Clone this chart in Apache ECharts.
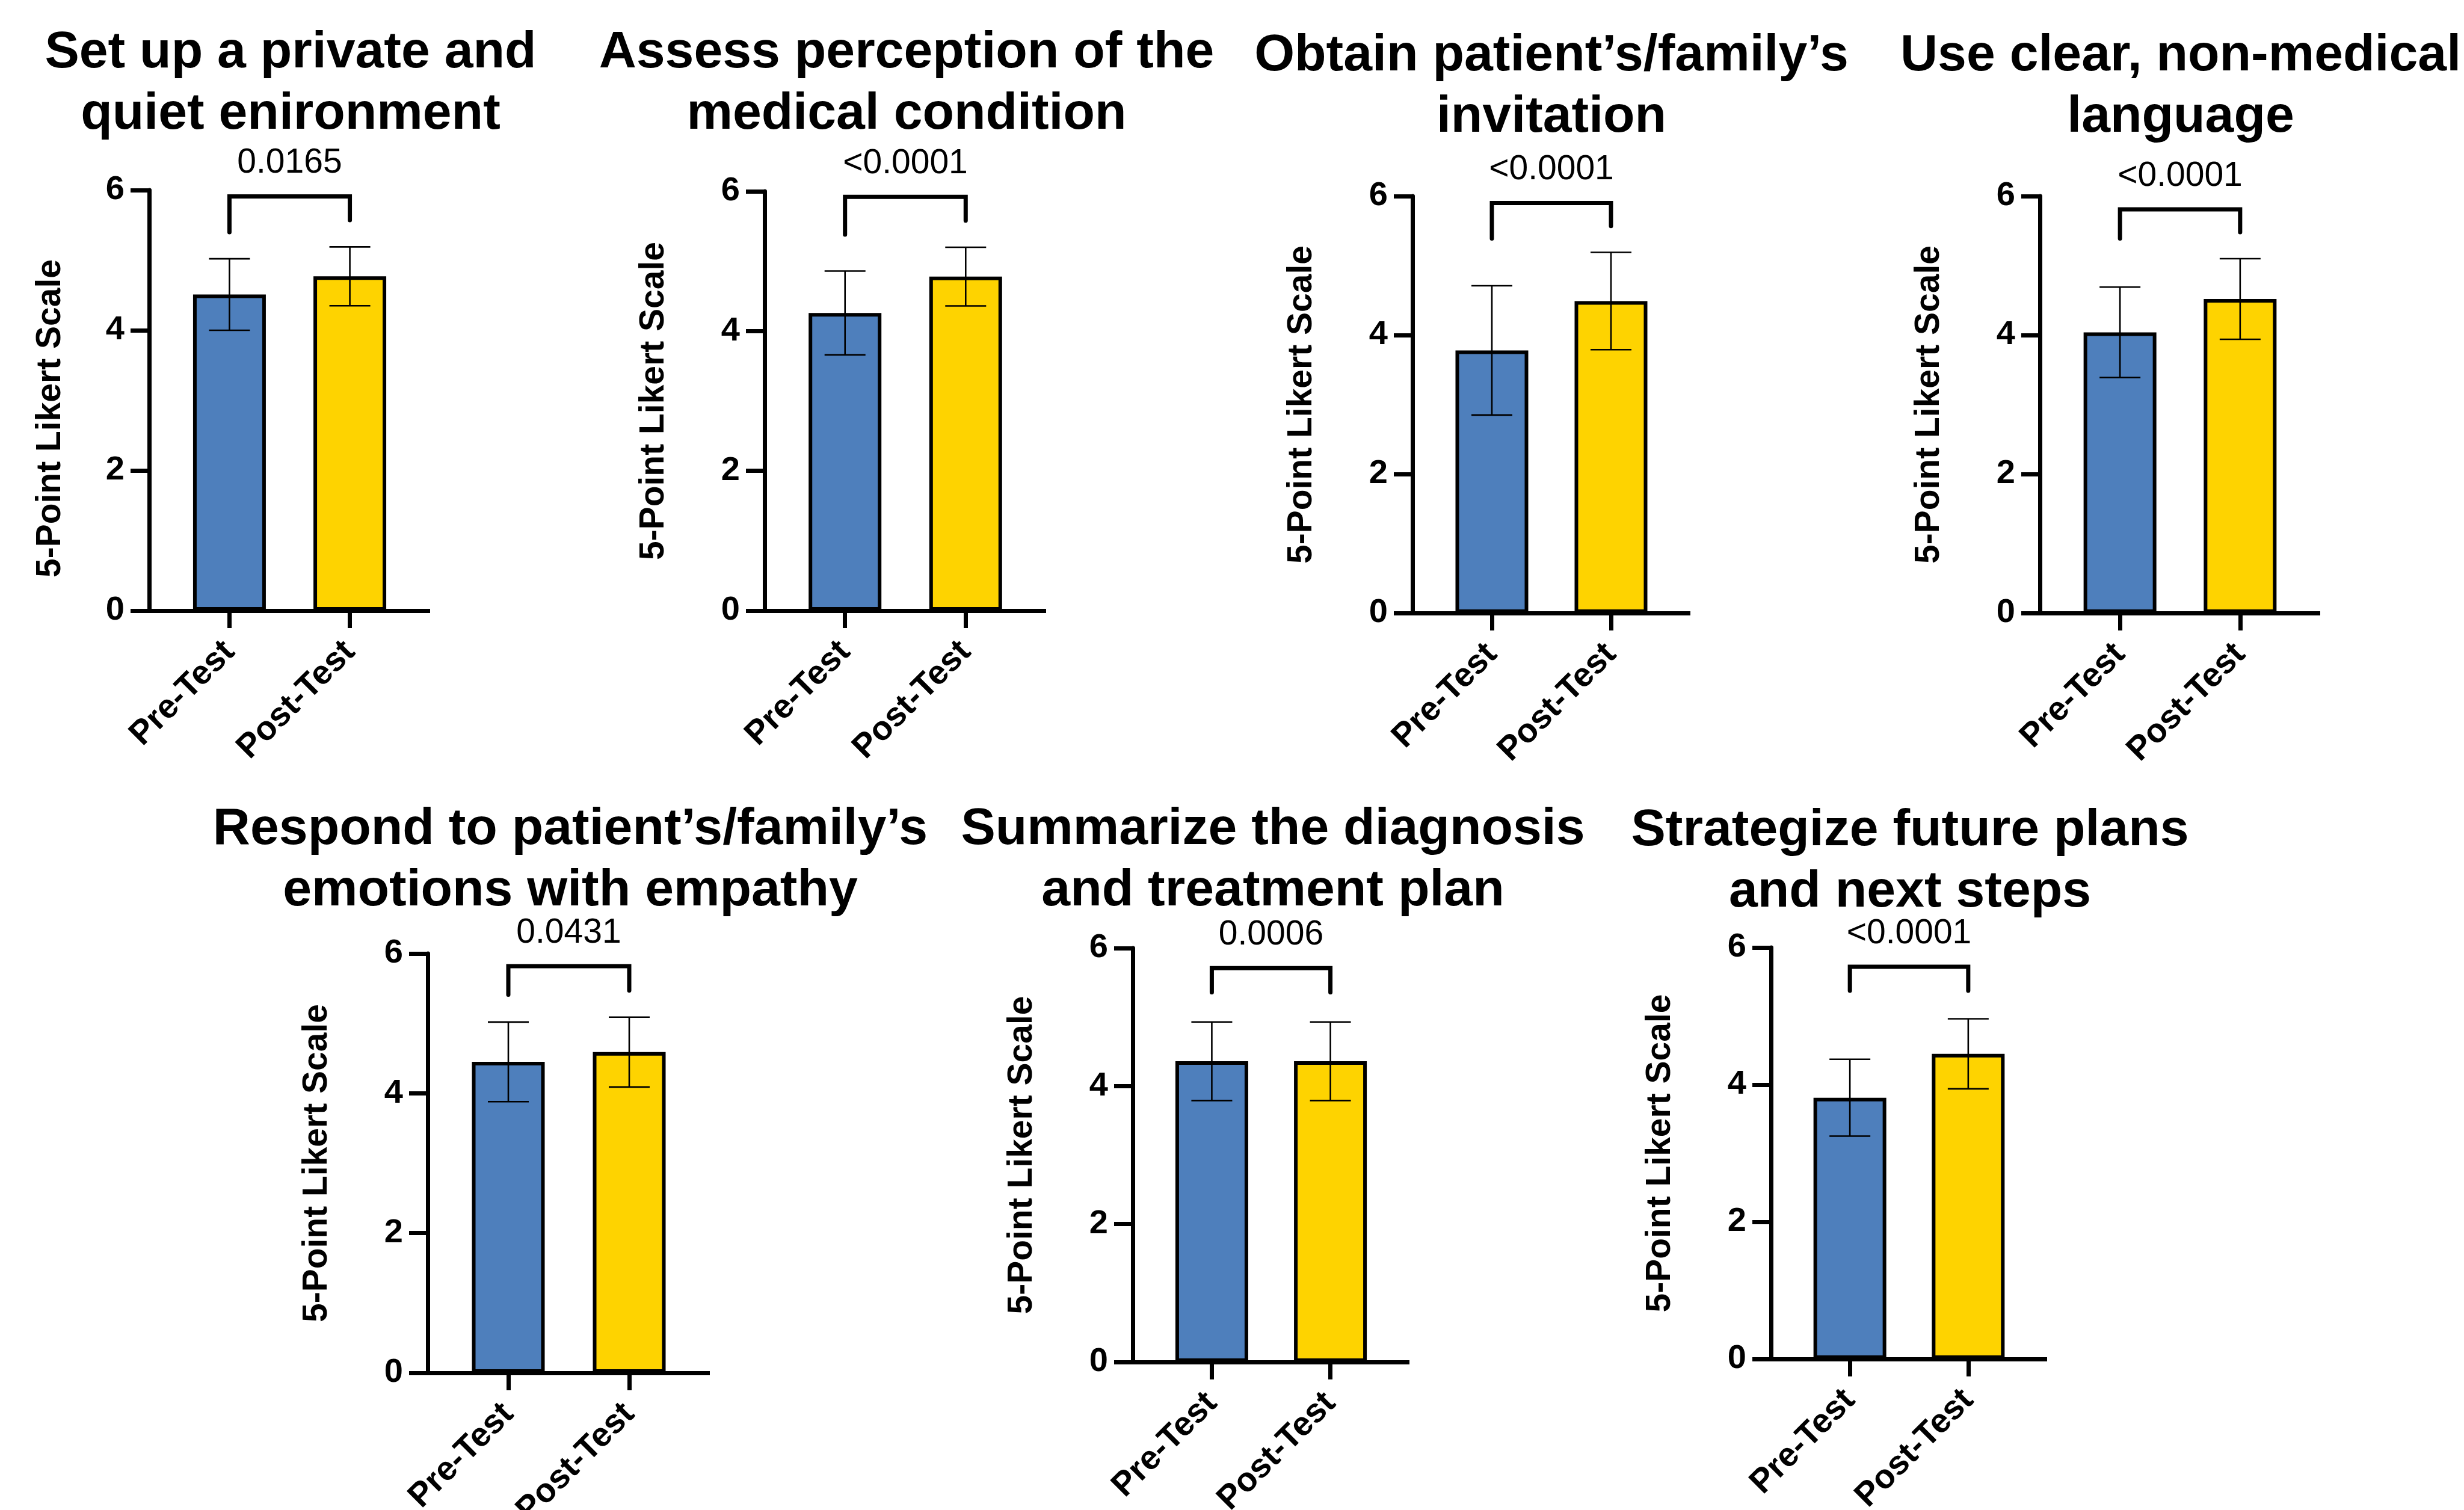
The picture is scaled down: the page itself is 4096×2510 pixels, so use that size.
<!DOCTYPE html>
<html>
<head>
<meta charset="utf-8">
<script src="https://cdn.jsdelivr.net/npm/echarts@6/dist/echarts.min.js"></script>
<style>
  html, body { margin: 0; padding: 0; background: #ffffff; }
  #chart { width: 4096px; height: 2510px; }
</style>
</head>
<body>
<div id="chart"></div>
<script>
// Pre/post SPIKES self-ratings on a 5-point Likert scale (mean ± SD)
const groups = ['Pre-Test', 'Post-Test'];
const panelTitles = [
  'Set up a private and\nquiet enironment',
  'Assess perception of the\nmedical condition',
  'Obtain patient\u2019s/family\u2019s\ninvitation',
  'Use clear, non-medical\nlanguage',
  'Respond to patient\u2019s/family\u2019s\nemotions with empathy',
  'Summarize the diagnosis\nand treatment plan',
  'Strategize future plans\nand next steps'
];
const preMean  = [4.51, 4.26, 3.78, 4.04, 4.45, 4.36, 3.81];
const preSD    = [0.51, 0.60, 0.93, 0.65, 0.57, 0.57, 0.56];
const postMean = [4.77, 4.78, 4.49, 4.52, 4.59, 4.36, 4.45];
const postSD   = [0.42, 0.42, 0.70, 0.58, 0.50, 0.57, 0.51];
const pValues  = ['0.0165', '<0.0001', '<0.0001', '<0.0001', '0.0431', '0.0006', '<0.0001'];
// comparison bracket levels, in scale units: crossbar, pre leg end, post leg end
const bracketTop     = [5.91, 5.92, 5.90, 5.81, 5.82, 5.71, 5.72];
const bracketPreEnd  = [5.40, 5.38, 5.39, 5.39, 5.41, 5.36, 5.37];
const bracketPostEnd = [5.57, 5.58, 5.57, 5.48, 5.47, 5.36, 5.37];
const yTicks = { min: 0, max: 6, step: 2 };
const yName = '5-Point Likert Scale';

// panel boxes (pixels) and title placement
const layout = [
  { left: 248,  top: 316,  width: 467, height: 699, tx: 483,  ty: 37,   gap: 135, shift: 30 },
  { left: 1271, top: 318,  width: 468, height: 697, tx: 1507, ty: 37,   gap: 155, shift: 0 },
  { left: 2348, top: 326,  width: 462, height: 693, tx: 2579, ty: 42,   gap: 155, shift: 0 },
  { left: 3391, top: 326,  width: 466, height: 693, tx: 3625, ty: 42,   gap: 155, shift: 0 },
  { left: 711,  top: 1585, width: 469, height: 697, tx: 948,  ty: 1328, gap: 155, shift: 0 },
  { left: 1883, top: 1576, width: 460, height: 688, tx: 2116, ty: 1328, gap: 155, shift: 0 },
  { left: 2944, top: 1575, width: 459, height: 684, tx: 3175, ty: 1330, gap: 155, shift: 0 }
];

const FONT = '"Liberation Sans", Arial, Helvetica, sans-serif';
const BLUE = '#4E7FBC';
const GOLD = '#FED300';
const INK = '#000000';

const title = [], grid = [], xAxis = [], yAxis = [], series = [];

layout.forEach((L, i) => {
  title.push({
    text: panelTitles[i],
    left: L.tx, top: L.ty, padding: 0,
    textAlign: 'center',
    textStyle: { fontFamily: FONT, fontWeight: 'bold', fontSize: 86, lineHeight: 102, color: INK }
  });
  grid.push({
    left: L.left, top: L.top, width: L.width, height: L.height,
    containLabel: false, outerBoundsMode: 'none'
  });

  xAxis.push({
    type: 'value', gridIndex: i, min: -2 / 3, max: 5 / 3,
    splitLine: { show: false },
    axisLine: { show: true, onZero: false, lineStyle: { color: INK, width: 7, cap: 'butt' } },
    axisTick: { show: true, customValues: [0, 1], length: 29, lineStyle: { color: INK, width: 7 } },
    axisLabel: {
      show: true, customValues: [0, 1], rotate: 45, margin: 60,
      formatter: v => groups[Math.round(v)],
      fontFamily: FONT, fontWeight: 'bold', fontSize: 56, color: INK
    }
  });

  yAxis.push({
    type: 'value', gridIndex: i, min: yTicks.min, max: yTicks.max, interval: yTicks.step,
    splitLine: { show: false },
    axisLine: { show: true, onZero: false, lineStyle: { color: INK, width: 7 } },
    axisTick: { show: true, length: 31, lineStyle: { color: INK, width: 7 } },
    axisLabel: { margin: 41, fontFamily: FONT, fontWeight: 'bold', fontSize: 56, color: INK },
    name: yName, nameLocation: 'middle', nameRotate: 90, nameGap: L.gap,
    nameTextStyle: {
      fontFamily: FONT, fontWeight: 'bold', fontSize: 57, lineHeight: 57, color: INK,
      padding: L.shift ? [0, 2 * L.shift, 0, 0] : 0
    }
  });

  // mean bars
  series.push({
    type: 'bar', xAxisIndex: i, yAxisIndex: i, barWidth: 121, silent: true, z: 2,
    itemStyle: { borderColor: INK, borderWidth: 6 },
    data: [
      { value: [0, preMean[i]], itemStyle: { color: BLUE } },
      { value: [1, postMean[i]], itemStyle: { color: GOLD } }
    ]
  });

  // SD whiskers
  series.push({
    type: 'custom', xAxisIndex: i, yAxisIndex: i, silent: true, z: 4,
    data: [[0, preMean[i], preSD[i]], [1, postMean[i], postSD[i]]],
    renderItem: (params, api) => {
      const x = api.value(0), m = api.value(1), s = api.value(2);
      const hi = api.coord([x, m + s]);
      const lo = api.coord([x, m - s]);
      const hw = 34;
      const st = { stroke: INK, lineWidth: 2.6 };
      return {
        type: 'group',
        children: [
          { type: 'line', shape: { x1: hi[0], y1: hi[1], x2: lo[0], y2: lo[1] }, style: st },
          { type: 'line', shape: { x1: hi[0] - hw, y1: hi[1], x2: hi[0] + hw, y2: hi[1] }, style: st },
          { type: 'line', shape: { x1: lo[0] - hw, y1: lo[1], x2: lo[0] + hw, y2: lo[1] }, style: st }
        ]
      };
    }
  });

  // significance bracket with p-value
  series.push({
    type: 'custom', xAxisIndex: i, yAxisIndex: i, silent: true, z: 5,
    data: [[0.5, bracketTop[i]]],
    renderItem: (params, api) => {
      const top = bracketTop[i];
      const a = api.coord([0, bracketPreEnd[i]]);
      const b = api.coord([0, top]);
      const c = api.coord([1, top]);
      const d = api.coord([1, bracketPostEnd[i]]);
      return {
        type: 'group',
        children: [
          {
            type: 'polyline',
            shape: { points: [a, b, c, d] },
            style: { stroke: INK, lineWidth: 7, fill: null, lineCap: 'round', lineJoin: 'miter' }
          },
          {
            type: 'text',
            x: (b[0] + c[0]) / 2, y: b[1] - 55,
            style: {
              text: pValues[i], fontFamily: FONT, fontSize: 57, fill: INK,
              align: 'center', verticalAlign: 'middle'
            }
          }
        ]
      };
    }
  });
});

const chart = echarts.init(document.getElementById('chart'), null, { renderer: 'canvas' });
chart.setOption({
  backgroundColor: '#ffffff',
  animation: false,
  title, grid, xAxis, yAxis, series
});
</script>
</body>
</html>
